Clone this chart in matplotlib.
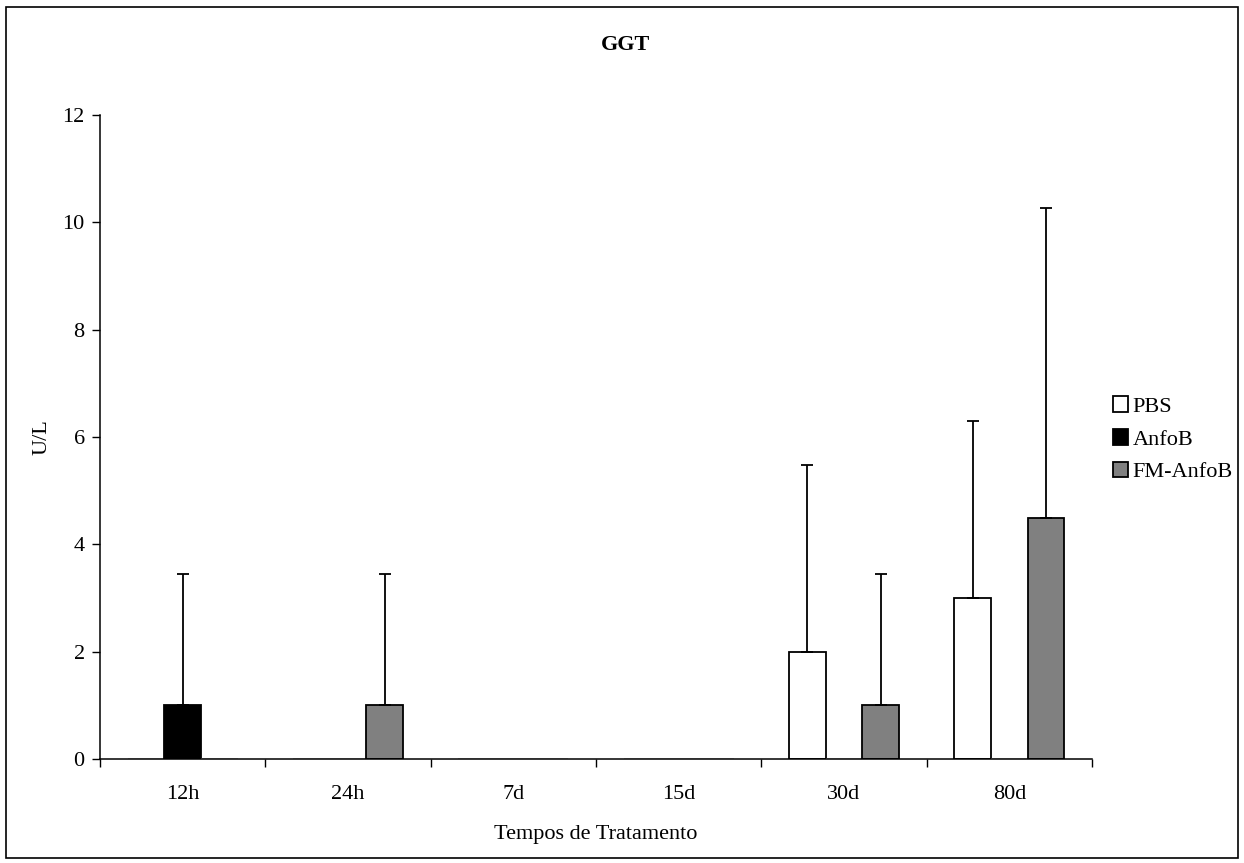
import matplotlib
matplotlib.use("Agg")
import matplotlib.pyplot as plt
import numpy as np
from matplotlib.patches import Rectangle, Patch

plt.rcParams["font.family"] = ["Liberation Serif", "DejaVu Serif"]

# data
times = ["12h", "24h", "7d", "15d", "30d", "80d"]
groups = ["PBS", "AnfoB", "FM-AnfoB"]
pbs = [0, 0, 0, 0, 2.0, 3.0]
anfob = [1.0, 0, 0, 0, 0, 0]
fm_anfob = [0, 1.0, 0, 0, 1.0, 4.5]
pbs_err = [0, 0, 0, 0, 3.47, 3.30]
anfob_err = [2.45, 0, 0, 0, 0, 0]
fm_anfob_err = [0, 2.45, 0, 0, 2.45, 5.77]
colors = ["white", "black", "#808080"]

fs = 16

fig = plt.figure(figsize=(12.44, 8.63), dpi=100)
ax = fig.add_axes([0.0804, 0.1205, 0.7974, 0.7462])

x = np.arange(len(times))
width = 0.222
series = [(pbs, pbs_err), (anfob, anfob_err), (fm_anfob, fm_anfob_err)]
for i, (vals, errs) in enumerate(series):
    pos = x + (i - 1) * width
    vals = np.array(vals)
    # zero-height bars show up only as a faint stub on the axis
    edges = ["black" if v > 0 else "#c8c8c8" for v in vals]
    ax.bar(pos, vals, width, color=colors[i], edgecolor=edges,
           linewidth=1.3, zorder=2)
    errs = np.array(errs)
    mask = errs > 0
    if mask.any():
        ax.errorbar(pos[mask], vals[mask], yerr=[np.zeros(mask.sum()), errs[mask]],
                    fmt="none", ecolor="black", elinewidth=1.3, capsize=4.5,
                    capthick=1.3, zorder=3)

ax.set_xlim(-0.5, len(times) - 0.5)
ax.set_ylim(0, 12)
ax.set_yticks(np.arange(0, 13, 2))
ax.set_xticks(x)
ax.set_xticklabels(times)
ax.set_xticks(np.arange(-0.5, len(times)), minor=True)
ax.tick_params(axis="x", which="major", length=0, pad=19, labelsize=fs)
ax.tick_params(axis="x", which="minor", length=6, direction="out", width=1)
ax.tick_params(axis="y", length=6, direction="out", width=1, labelsize=fs, pad=5)

for s in ["top", "right"]:
    ax.spines[s].set_visible(False)
for s in ["left", "bottom"]:
    ax.spines[s].set_linewidth(1.1)
    ax.spines[s].set_zorder(4)

ax.set_xlabel("Tempos de Tratamento", fontsize=fs, labelpad=15)
ax.set_ylabel("U/L", fontsize=fs, labelpad=8)

fig.text(0.503, 0.948, "GGT", ha="center", va="center", fontsize=fs, fontweight="bold")

handles = [Patch(facecolor=c, edgecolor="black", linewidth=1.3) for c in colors]
fig.legend(handles, groups, loc="center left", bbox_to_anchor=(0.8872, 0.491),
           frameon=False, fontsize=fs, handlelength=0.7, handleheight=0.7,
           handletextpad=0.2, labelspacing=0.55, borderaxespad=0)

fig.patches.append(Rectangle((0.005, 0.006), 0.99, 0.986, transform=fig.transFigure,
                             fill=False, edgecolor="black", linewidth=1.2))

fig.savefig("out.png", dpi=100)
